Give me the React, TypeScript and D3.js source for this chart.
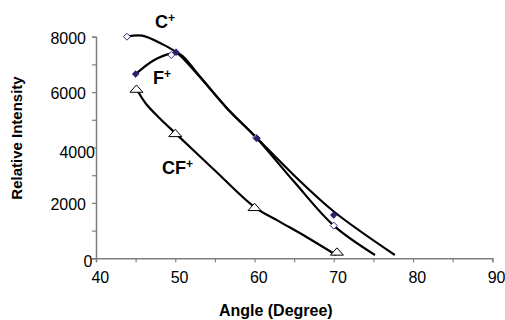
import {useEffect, useRef} from "react";
import * as d3 from "d3"

const width = 505
const height = 320

// x: Angle (Degree), y: Relative Intensity
const xTickValues = [40, 50, 60, 70, 80, 90]
const xMinorTicks = [40, 45, 50, 55, 60, 65, 70, 75, 80, 85, 90]
const yTickValues = [0, 2000, 4000, 6000, 8000]
const yMinorTicks = [0, 1000, 2000, 3000, 4000, 5000, 6000, 7000, 8000]

// measured points
const cPlusPts: [number, number][] = [[43.9, 8000], [49.5, 7340], [60.2, 4350], [70, 1180]]
const fPlusPts: [number, number][] = [[45, 6650], [50.1, 7440], [60.3, 4330], [70, 1560]]
const cfPlusPts: [number, number][] = [[45.1, 6120], [50, 4520], [60, 1850], [70.4, 240]]

// fitted curves
const cPlusCurve: [number, number][] = [[43.9, 8000], [45.8, 8040], [48.3, 7740], [50.3, 7400], [53, 6580], [56.5, 5420], [60.2, 4360], [65, 2760], [70, 1180], [75.2, 120]]
const fPlusCurve: [number, number][] = [[45, 6650], [47.3, 7150], [49.5, 7390], [50.6, 7370], [53, 6600], [56.5, 5430], [60.2, 4370], [65, 2990], [70, 1690], [77.7, 120]]
const cfPlusCurve: [number, number][] = [[45.1, 6120], [46.3, 5580], [48.1, 5040], [50, 4520], [55, 3170], [60, 1850], [63, 1350], [66.5, 780], [70.3, 120]]

const font = "'Liberation Sans', Arial, sans-serif"

const App = () => {
    const svgRef = useRef(null)

    useEffect(() => {
        const svg = d3.select(svgRef.current)
        svg.selectAll("*").remove()

        const x = d3.scaleLinear().domain([40, 90]).range([96, 492.3])
        const y = d3.scaleLinear().domain([0, 8000]).range([258.3, 36.7])
        const axisColor = "#7f7f7f"

        // оси
        const xAxis = d3.axisBottom(x).tickValues(xMinorTicks).tickSize(4).tickFormat(() => "")
        const yAxis = d3.axisLeft(y).tickValues(yMinorTicks).tickSize(4).tickFormat(() => "")
        const gx = svg.append("g").attr("transform", `translate(0,${y(0)})`).call(xAxis)
        const gy = svg.append("g").attr("transform", `translate(${x(40)},0)`).call(yAxis)
        ;[gx, gy].forEach(g => {
            g.select(".domain").attr("stroke", axisColor).attr("stroke-width", 1.5)
            g.selectAll(".tick line").attr("stroke", axisColor).attr("stroke-width", 1.2)
        })

        // подписи тиков
        svg.append("g").selectAll("text").data(xTickValues).join("text")
            .attr("x", d => x(d) + 4.3)
            .attr("y", 283.3)
            .attr("text-anchor", "middle")
            .attr("font-family", font)
            .attr("font-size", 16)
            .text(d => d)

        const nudge = (d: number) => d === 4000 ? [9, 3.4] : d === 0 ? [6.3, 1.1] : [0, 0]
        svg.append("g").selectAll("text").data(yTickValues).join("text")
            .attr("x", d => 86 + nudge(d)[0])
            .attr("y", d => y(d) + 7.3 + nudge(d)[1])
            .attr("text-anchor", "end")
            .attr("font-family", font)
            .attr("font-size", 16)
            .text(d => d)

        // заголовки осей
        svg.append("text")
            .attr("transform", "translate(21.5,138) rotate(-90)")
            .attr("text-anchor", "middle")
            .attr("font-family", font)
            .attr("font-weight", "bold")
            .attr("font-size", 15)
            .text("Relative Intensity")
        svg.append("text")
            .attr("x", 275.8)
            .attr("y", 316)
            .attr("text-anchor", "middle")
            .attr("font-family", font)
            .attr("font-weight", "bold")
            .attr("font-size", 16)
            .text("Angle (Degree)")

        // кривые
        const line = d3.line<[number, number]>()
            .x(d => x(d[0]))
            .y(d => y(d[1]))
            .curve(d3.curveCatmullRom.alpha(0.5))
        ;[cPlusCurve, fPlusCurve, cfPlusCurve].forEach(c => {
            svg.append("path")
                .attr("d", line(c))
                .attr("fill", "none")
                .attr("stroke", "#000")
                .attr("stroke-width", 2.2)
        })

        // маркеры
        const diamond = "M0,-3.5L3.5,0L0,3.5L-3.5,0Z"
        svg.append("g").selectAll("path").data(cPlusPts).join("path")
            .attr("transform", d => `translate(${x(d[0])},${y(d[1])})`)
            .attr("d", diamond)
            .attr("fill", "#fff")
            .attr("stroke", "#3a2a80")
            .attr("stroke-width", 1)
        svg.append("g").selectAll("path").data(fPlusPts).join("path")
            .attr("transform", d => `translate(${x(d[0])},${y(d[1])})`)
            .attr("d", diamond)
            .attr("fill", "#2e1f6e")
            .attr("stroke", "#2e1f6e")
            .attr("stroke-width", 0.5)
        svg.append("g").selectAll("path").data(cfPlusPts).join("path")
            .attr("transform", d => `translate(${x(d[0])},${y(d[1])})`)
            .attr("d", "M0,-3.8L6.5,3.5L-6.5,3.5Z")
            .attr("fill", "#fff")
            .attr("stroke", "#000")
            .attr("stroke-width", 1)

        // метки серий
        const labels = [
            {base: "C", x: 155, y: 27.5},
            {base: "F", x: 153, y: 83.5},
            {base: "CF", x: 162, y: 173.5},
        ]
        labels.forEach(l => {
            const t = svg.append("text")
                .attr("x", l.x)
                .attr("y", l.y)
                .attr("font-family", font)
                .attr("font-weight", "bold")
                .attr("font-size", 18)
            t.append("tspan").text(l.base)
            t.append("tspan").attr("dy", -6).attr("font-size", 12).text("+")
        })
    }, []);

    return <svg ref={svgRef} width={width} height={height}
                style={{position: "absolute", left: 0, top: 0, background: "#fff"}}/>
}

export default App
